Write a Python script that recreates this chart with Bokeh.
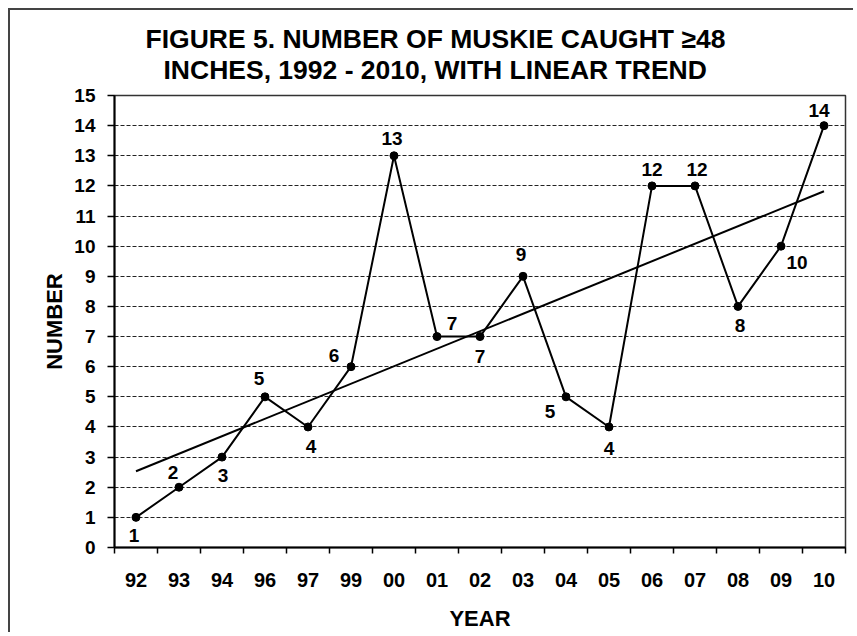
import numpy as np
from bokeh.plotting import figure
from bokeh.models import (ColumnDataSource, Range1d, FixedTicker, Title)
from bokeh.core.properties import value
from bokeh.embed import file_html
from bokeh.resources import INLINE

# ---- data ----
years = ["92", "93", "94", "96", "97", "99", "00", "01", "02", "03",
         "04", "05", "06", "07", "08", "09", "10"]
counts = [1, 2, 3, 5, 4, 6, 13, 7, 7, 9, 5, 4, 12, 12, 8, 10, 14]
y_ticks = list(range(0, 16))
title_lines = ["FIGURE 5. NUMBER OF MUSKIE CAUGHT \u226548",
               "INCHES, 1992 - 2010, WITH LINEAR TREND"]

# label placement (pixel offsets relative to each point: style only)
label_dx = [-2, -6, 1, -6, 3, -17, -2, 15, 0, -2, -16, 0, 0, 2, 2, 16, -5]
label_dy = [18, -15, 18, -18, 20, -11, -17, -13, 20, -22, 15, 22, -16, -16, 19, 16, -15]

FONT = "Liberation Sans"

xs = np.arange(1, len(years) + 1)
slope, intercept = np.polyfit(xs, counts, 1)
trend_x = [xs[0], xs[-1]]
trend_y = [intercept + slope * xs[0], intercept + slope * xs[-1]]

src = ColumnDataSource(dict(
    x=xs, y=counts, label=[str(c) for c in counts], dx=label_dx, dy=label_dy))

W, H = 845, 624
TOP, LEFT, RIGHT, FRAME_H = 85, 104, 10, 452
p = figure(width=W, height=H, output_backend="svg", toolbar_location=None,
           x_range=Range1d(0.5, len(years) + 0.5), y_range=Range1d(0, 15),
           min_border_left=LEFT, min_border_right=RIGHT, min_border_top=TOP,
           min_border_bottom=H - TOP - FRAME_H,
           background_fill_color="white", border_fill_color="white",
           styles={"margin-left": "8px", "margin-top": "8px",
                   "border-left": "2px solid #444", "border-top": "2px solid #444"})

p.outline_line_color = "#333"
p.outline_line_width = 1.5

# titles: line 1 is p.title (top), line 2 added below it (closest to plot)
p.title.text = title_lines[0]
p.title.align = "left"
p.title.offset = 31
p.title.text_font = FONT
p.title.text_font_size = "26.5px"
p.title.text_font_style = "bold"
p.title.text_color = "black"
p.title.standoff = -25
t2 = Title(text=title_lines[1], align="left", offset=49,
           text_font=FONT, text_font_size="26.5px", text_font_style="bold",
           text_color="black", standoff=22)
p.add_layout(t2, "above")

# axes
xa = p.xaxis[0]
xa.ticker = FixedTicker(ticks=list(xs), minor_ticks=list(np.arange(0.5, len(years) + 1, 1.0)))
xa.major_label_overrides = {int(x): y for x, y in zip(xs, years)}
xa.major_tick_out = 0
xa.major_tick_in = 0
xa.minor_tick_out = 6
xa.minor_tick_in = 0
xa.minor_tick_line_color = "black"
xa.minor_tick_line_width = 1.5
xa.axis_line_color = "black"
xa.axis_line_width = 2
xa.major_label_standoff = 19
xa.major_label_text_font = FONT
xa.major_label_text_font_size = "20px"
xa.major_label_text_font_style = "bold"
xa.major_label_text_color = "black"
xa.axis_label = "YEAR"
xa.axis_label_text_font = FONT
xa.axis_label_text_font_size = "22px"
xa.axis_label_text_font_style = "bold"
xa.axis_label_text_color = "black"
xa.axis_label_standoff = 16

ya = p.yaxis[0]
ya.ticker = FixedTicker(ticks=y_ticks)
ya.major_tick_out = 7
ya.major_tick_in = 0
ya.minor_tick_out = 0
ya.minor_tick_in = 0
ya.major_tick_line_color = "black"
ya.major_tick_line_width = 1.5
ya.axis_line_color = "black"
ya.axis_line_width = 2
ya.major_label_standoff = 12
ya.major_label_text_font = FONT
ya.major_label_text_font_size = "19px"
ya.major_label_text_font_style = "bold"
ya.major_label_text_color = "black"
ya.axis_label = "NUMBER"
ya.axis_label_text_font = FONT
ya.axis_label_text_font_size = "22px"
ya.axis_label_text_font_style = "bold"
ya.axis_label_text_color = "black"
ya.axis_label_standoff = 4

p.xgrid.grid_line_color = None
p.ygrid.ticker = FixedTicker(ticks=y_ticks)
p.ygrid.grid_line_color = "#222"
p.ygrid.grid_line_width = 1
p.ygrid.grid_line_dash = "4 2"

# trend line
p.line(trend_x, trend_y, line_color="black", line_width=2)
# data line and markers
p.line("x", "y", source=src, line_color="black", line_width=2)
p.scatter("x", "y", source=src, size=8, fill_color="black", line_color="black")
# value labels
p.text("x", "y", text="label", source=src, x_offset="dx", y_offset="dy",
       text_align="center", text_baseline="middle",
       text_font=value(FONT), text_font_size="19px", text_font_style="bold",
       text_color="black")

open("out.html", "w").write(file_html(p, INLINE))
